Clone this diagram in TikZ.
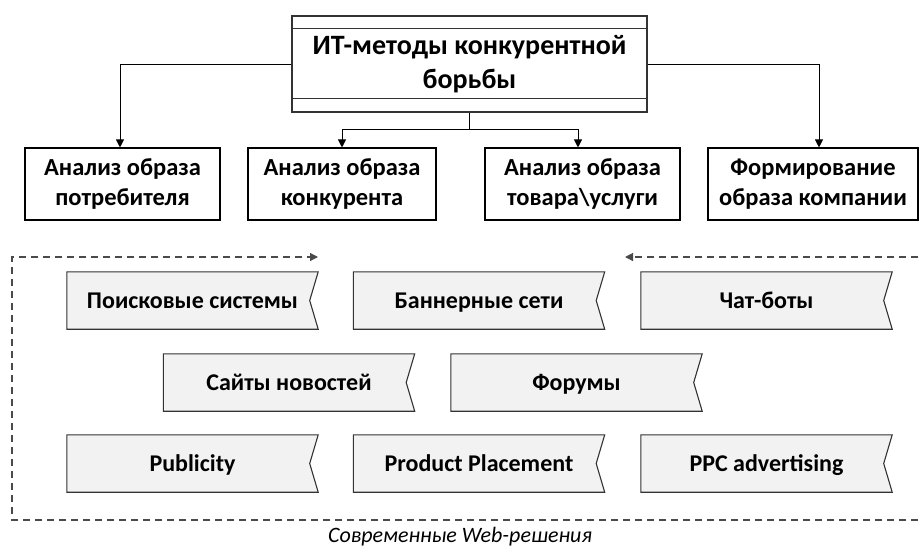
\documentclass[tikz,border=0pt]{standalone}
\usepackage{fontspec}
\setmainfont{Carlito}
\usetikzlibrary{arrows.meta,backgrounds}

\definecolor{edgegray}{HTML}{333333}
\definecolor{ribbonfill}{HTML}{F2F2F2}
\definecolor{framegray}{HTML}{4A4A4A}

\tikzset{
  titlebox/.style={draw=edgegray, line width=1.2pt, minimum width=355pt, minimum height=96pt,
    align=center, inner sep=0pt, font=\bfseries\fontsize{28}{34}\selectfont},
  methodbox/.style={draw=black, line width=1.1pt, minimum height=72pt, align=center,
    inner sep=0pt, font=\bfseries\fontsize{24.5}{30}\selectfont},
  ribbontext/.style={minimum width=251pt, minimum height=57pt, inner sep=0pt,
    text height=18pt, text depth=3pt, font=\bfseries\fontsize{24}{28}\selectfont},
  ribbonline/.style={draw=edgegray, fill=ribbonfill, line width=1.1pt, line join=miter},
  link/.style={draw=black, line width=1pt, -{Triangle[length=8pt,width=8pt]}},
  frameline/.style={draw=framegray, line width=1.2pt, dash pattern=on 7pt off 5pt},
  framearrow/.style={frameline, -{Triangle[length=8pt,width=8pt]}},
}

% ribbon: name, centre x, centre y, text
\newcommand\ribbonbox[4]{%
  \node[ribbontext] (#1) at (#2,#3) {#4};
  \begin{scope}[on background layer]
    \path[ribbonline] (#1.north west) -- (#1.north east) -- ([xshift=-8.5pt]#1.east)
      -- (#1.south east) -- (#1.south west) -- cycle;
  \end{scope}}

\begin{document}
\begin{tikzpicture}[x=1pt,y=-1pt]
\useasboundingbox (0,0) rectangle (921,547);

% main heading
\node[titlebox] (title) at (469.5,64) {ИТ-методы конкурентной\\борьбы};
\draw[edgegray, line width=1.2pt] ([yshift=-13pt]title.north west) -- ([yshift=-13pt]title.north east);
\draw[edgegray, line width=1.2pt] ([yshift=14pt]title.south west) -- ([yshift=14pt]title.south east);

% methods
\node[methodbox, minimum width=195pt] (b1) at (122.5,184) {Анализ образа\\потребителя};
\node[methodbox, minimum width=188pt] (b2) at (342,184) {Анализ образа\\конкурента};
\node[methodbox, minimum width=195pt] (b3) at (582.5,184) {Анализ образа\\товара\textbackslash услуги};
\node[methodbox, minimum width=210pt] (b4) at (813,184) {Формирование\\образа компании};

\draw[link] (title.west) -| ([xshift=-2.5pt]b1.north);
\draw[link] (title.east) -| ([xshift=6pt]b4.north);
\draw[line width=1pt] (title.south) -- ++(0,17) coordinate (split);
\draw[link] (split) -| (b2.north);
\draw[link] (split) -| ([xshift=-4.5pt]b3.north);

% web solutions
\ribbonbox{r1}{192.5}{300.5}{Поисковые системы}
\ribbonbox{r2}{479}{300.5}{Баннерные сети}
\ribbonbox{r3}{766.5}{300.5}{Чат-боты}
\ribbonbox{r4}{289}{382.5}{Сайты новостей}
\ribbonbox{r5}{576.5}{382.5}{Форумы}
\ribbonbox{r6}{192.5}{463.5}{Publicity}
\ribbonbox{r7}{479}{463.5}{Product Placement}
\ribbonbox{r8}{766.5}{463.5}{PPC advertising}

% dashed frame around the solutions
\coordinate (fl) at (12,257);
\coordinate (fla) at (318,257);
\coordinate (fbl) at (12,520);
\coordinate (fbr) at (930,520);
\coordinate (fr) at (930,257);
\coordinate (fra) at (625,257);
\draw[framearrow] (fbr) -- (fbl) -- (fl) -- (fla);
\draw[framearrow] (fr) -- (fra);

\node[font=\itshape\fontsize{22}{26}\selectfont] (cap) at (460,537) {Современные Web-решения};
\end{tikzpicture}
\end{document}
